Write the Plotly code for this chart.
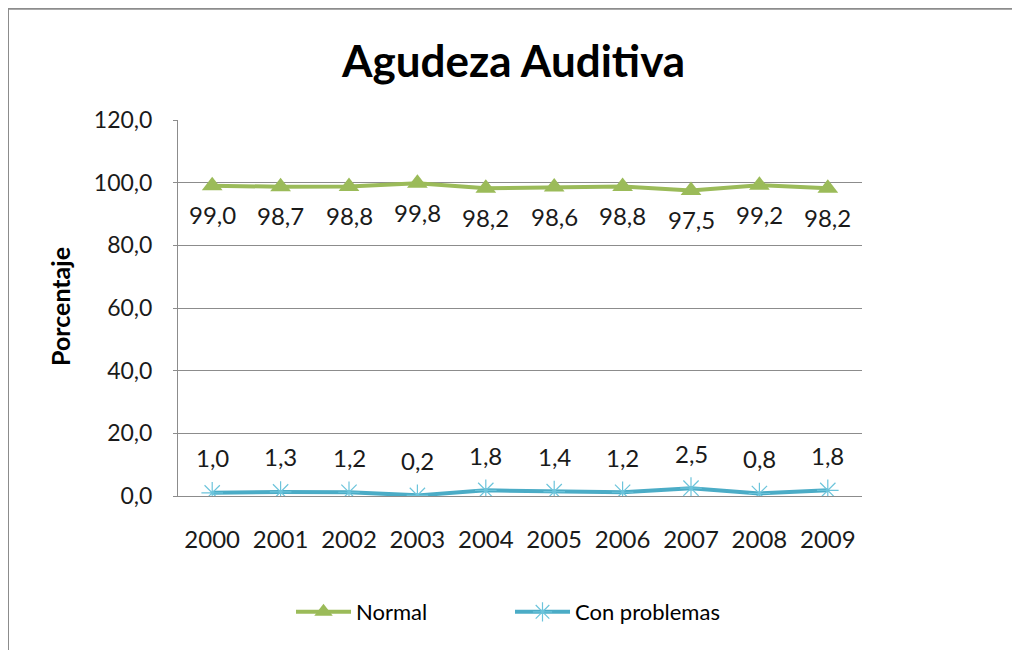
import plotly.graph_objects as go

years = ["2000", "2001", "2002", "2003", "2004", "2005", "2006", "2007", "2008", "2009"]
normal = [99.0, 98.7, 98.8, 99.8, 98.2, 98.6, 98.8, 97.5, 99.2, 98.2]
con_problemas = [1.0, 1.3, 1.2, 0.2, 1.8, 1.4, 1.2, 2.5, 0.8, 1.8]
y_ticks = [0, 20, 40, 60, 80, 100, 120]

FONT = "Lato"
GREEN = "#9BBB59"
BLUE = "#4BACC6"
GRID = "#8C8C8C"

# The page places the figure 8px from the window's top-left corner,
# so the figure is 1012x642 and target pixel positions are shifted by 8.
W, H, OFF = 1012, 642, 8


def px(x):
    return (x - OFF) / W


def py(y):
    return 1 - (y - OFF) / H


def fmt(v):
    return f"{v:.1f}".replace(".", ",")


fig = go.Figure()
fig.add_trace(go.Scatter(
    x=years, y=normal, name="Normal", mode="lines+markers",
    line=dict(color=GREEN, width=4),
    marker=dict(symbol="triangle-up", size=18, color=GREEN),
))
fig.add_trace(go.Scatter(
    x=years, y=con_problemas, name="Con problemas", mode="lines+markers",
    line=dict(color=BLUE, width=4),
    marker=dict(symbol="asterisk-open", size=18, color="#6CC4DB",
                line=dict(color="#6CC4DB", width=1.2)),
))

annotations = []
for i, v in enumerate(normal):
    annotations.append(dict(x=i, y=v, xref="x", yref="y", text=fmt(v),
                            showarrow=False, yshift=-29,
                            xanchor="center", yanchor="middle",
                            font=dict(family=FONT, size=24, color="#1a1a1a")))
for i, v in enumerate(con_problemas):
    annotations.append(dict(x=i, y=v, xref="x", yref="y", text=fmt(v),
                            showarrow=False, yshift=35,
                            xanchor="center", yanchor="middle",
                            font=dict(family=FONT, size=24, color="#1a1a1a")))
annotations.append(dict(x=px(60), y=py(307), xref="paper", yref="paper",
                        text="<b>Porcentaje</b>", textangle=-90, showarrow=False,
                        xanchor="center", yanchor="middle",
                        font=dict(family=FONT, size=25, color="#000000")))
annotations.append(dict(x=px(513), y=py(60), xref="paper", yref="paper",
                        text="<b>Agudeza Auditiva</b>", showarrow=False,
                        xanchor="center", yanchor="middle",
                        font=dict(family=FONT, size=44, color="#000000")))

fig.update_layout(
    width=W, height=H, autosize=False,
    margin=dict(l=0, r=0, t=0, b=0, pad=0, autoexpand=False),
    paper_bgcolor="white", plot_bgcolor="white",
    separators=",.",
    font=dict(family=FONT, size=22, color="#1a1a1a"),
    showlegend=True,
    legend=dict(orientation="h", x=px(291), xanchor="left", y=py(612),
                yanchor="middle", font=dict(family=FONT, size=22, color="#000000"),
                itemwidth=55, entrywidth=149, traceorder="normal",
                bgcolor="rgba(0,0,0,0)"),
    annotations=annotations,
    shapes=[
        dict(type="line", xref="paper", yref="paper", x0=px(8), x1=px(8),
             y0=0, y1=1, line=dict(color="#8C8C8C", width=2)),
        dict(type="line", xref="paper", yref="paper", x0=px(8), x1=1,
             y0=0.999, y1=0.999, line=dict(color="#8C8C8C", width=2)),
    ],
    xaxis=dict(
        domain=[px(178), px(862)], type="category", range=[-0.5, 9.5],
        showgrid=False, showline=True, linecolor=GRID, linewidth=1,
        ticks="", ticklabelstandoff=22, automargin=False,
        tickfont=dict(family=FONT, size=24, color="#1a1a1a"),
    ),
    yaxis=dict(
        domain=[py(496), py(120)], range=[0, 120],
        tickvals=y_ticks, tickformat=".1f",
        showgrid=True, gridcolor=GRID, gridwidth=1,
        showline=True, linecolor=GRID, linewidth=1,
        ticks="outside", ticklen=4, tickcolor=GRID, ticklabelstandoff=16,
        zeroline=False, automargin=False,
        tickfont=dict(family=FONT, size=23, color="#1a1a1a"),
    ),
)

fig.write_html("out.html")
